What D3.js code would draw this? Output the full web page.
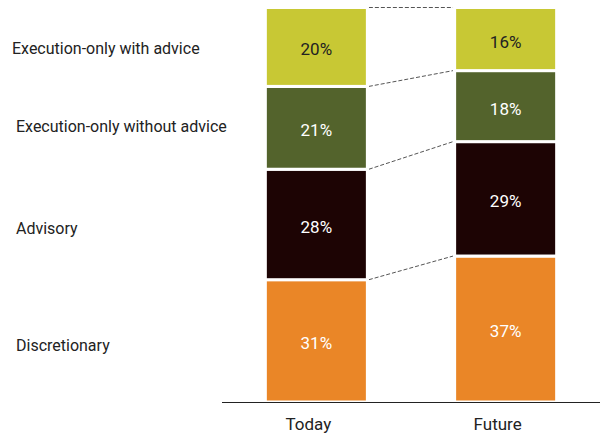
<!DOCTYPE html>
<html>
<head>
<meta charset="utf-8">
<script src="https://cdn.jsdelivr.net/npm/d3@7"></script>
<style>
  html, body { margin: 0; padding: 0; background: #fff; }
  svg { display: block; font-family: "Roboto", "Liberation Sans", sans-serif; }
</style>
</head>
<body>
<svg id="chart" width="600" height="435"></svg>
<script>
// Share of each advice model, today vs. future (stacked, bottom to top)
const periods = ["Today", "Future"];
const segments = ["Discretionary", "Advisory", "Execution-only without advice", "Execution-only with advice"];
const todayValues = [31, 28, 21, 20];
const futureValues = [37, 29, 18, 16];
const segmentColors = ["#EA8627", "#1D0404", "#53632C", "#C8C834"];
const labelColors = ["#ffffff", "#ffffff", "#ffffff", "#222222"];

const svg = d3.select("#chart");
const width = 600, height = 435;
const margin = { left: 222, right: 0, top: 7.5, bottom: 33 };

const rows = periods.map((p, i) => {
  const vals = i === 0 ? todayValues : futureValues;
  const row = { period: p };
  segments.forEach((s, j) => row[s] = vals[j]);
  return row;
});

const stacked = d3.stack().keys(segments)(rows);

const x = d3.scaleBand()
  .domain(periods)
  .range([margin.left, width - margin.right])
  .paddingInner(0.461)
  .paddingOuter(0.229);

const y = d3.scaleLinear()
  .domain([0, 100])
  .range([height - margin.bottom, margin.top]);

const color = d3.scaleOrdinal().domain(segments).range(segmentColors);
const textColor = d3.scaleOrdinal().domain(segments).range(labelColors);

// Dashed connectors between matching segment boundaries
const connectors = svg.append("g");
stacked.forEach(layer => {
  const a = layer[0], b = layer[1];
  connectors.append("line")
    .attr("x1", x(periods[0]) + x.bandwidth() + 1.5)
    .attr("x2", x(periods[1]) - 1.5)
    .attr("y1", y(a[1]))
    .attr("y2", y(b[1]))
    .attr("stroke", "#555")
    .attr("stroke-width", 1)
    .attr("stroke-dasharray", "4,2");
});

// Stacked segments
const layers = svg.append("g").selectAll("g")
  .data(stacked)
  .join("g")
  .attr("fill", d => color(d.key));

layers.selectAll("rect")
  .data(d => d.map(v => Object.assign(v, { key: d.key })))
  .join("rect")
  .attr("x", d => x(d.data.period))
  .attr("width", x.bandwidth())
  .attr("y", d => y(d[1]))
  .attr("height", d => y(d[0]) - y(d[1]))
  .attr("stroke", "#fff")
  .attr("stroke-width", 3);

layers.selectAll("text")
  .data(d => d)
  .join("text")
  .attr("x", d => x(d.data.period) + x.bandwidth() / 2)
  .attr("y", d => (y(d[0]) + y(d[1])) / 2 + 2.5)
  .attr("dy", "0.35em")
  .attr("text-anchor", "middle")
  .attr("font-size", 17)
  .attr("fill", d => textColor(d.key))
  .text(d => (d[1] - d[0]) + "%");

// Segment names beside the first bar (small vertical nudges per row)
const nameNudge = [5, 3.5, -1, 1];
svg.append("g").selectAll("text")
  .data(stacked)
  .join("text")
  .attr("x", (d, i) => i === 3 ? 12 : 16)
  .attr("y", (d, i) => (y(d[0][0]) + y(d[0][1])) / 2 + nameNudge[i])
  .attr("dy", "0.35em")
  .attr("font-size", 16)
  .attr("fill", "#222")
  .text(d => d.key);

// Category axis
const axis = svg.append("g")
  .attr("transform", `translate(0,${height - margin.bottom + 0.5})`)
  .call(d3.axisBottom(x).tickSize(0).tickPadding(15));
axis.select(".domain").attr("stroke", "#222").attr("d", `M${margin.left},0H${width}`);
axis.selectAll("text")
  .attr("dx", -8)
  .attr("font-size", 17)
  .attr("font-family", "Roboto, 'Liberation Sans', sans-serif")
  .attr("fill", "#222");
</script>
</body>
</html>
